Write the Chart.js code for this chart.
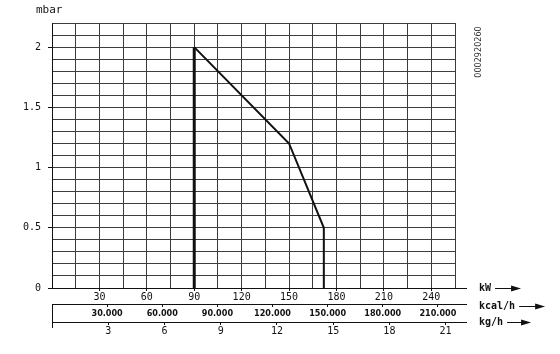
<!DOCTYPE html>
<html>
<head>
<meta charset="utf-8">
<script src="https://cdn.jsdelivr.net/npm/chart.js@4.4.0/dist/chart.umd.min.js"></script>
<style>
  html, body { margin: 0; padding: 0; background: #fff; }
</style>
</head>
<body>
<canvas id="chart" width="560" height="354"></canvas>
<script>
// ===== 曲线数据（kW / mbar）=====
const CURVE_KW = [90, 90, 150, 172, 172];
const CURVE_MBAR = [0, 2, 1.2, 0.5, 0];

// ===== 刻度标签 =====
const MBAR_TICKS = [0, 0.5, 1, 1.5, 2];
const KW_TICKS = [30, 60, 90, 120, 150, 180, 210, 240];
const KCAL_TICKS = [30000, 60000, 90000, 120000, 150000, 180000, 210000];
const KG_TICKS = [3, 6, 9, 12, 15, 18, 21];

// ===== 轴范围 =====
const KW_MAX = 255;
const MBAR_MAX = 2.2;
const KCAL_PER_KW = 860;
const KW_PER_KG = 11.86;

const INK = '#111';
const GRID = '#3c3c3c';
const HIDE = 'rgba(0,0,0,0)';
const MONO = '"DejaVu Sans Mono", monospace';

const has = (list, v) => list.some(t => Math.abs(t - v) < 1e-6);

// 右侧单位、箭头、mbar、编号
const extras = {
  id: 'extras',
  afterDraw(chart) {
    const { ctx, chartArea, scales } = chart;
    ctx.save();
    ctx.strokeStyle = INK;
    ctx.fillStyle = INK;
    ctx.lineWidth = 1;

    // 轴线向右延伸
    [scales.x, scales.x2, scales.x3].forEach(s => {
      const y = Math.round(s.top) + 0.5;
      ctx.beginPath();
      ctx.moveTo(s.right, y);
      ctx.lineTo(s.right + 12, y);
      ctx.stroke();
    });
    // 左侧竖线
    const lx0 = Math.round(scales.x2.left) + 0.5;
    ctx.beginPath();
    ctx.moveTo(lx0, scales.x2.top);
    ctx.lineTo(lx0, scales.x3.top + 6);
    ctx.stroke();

    // 单位 + 箭头
    ctx.font = 'bold 10px ' + MONO;
    ctx.textBaseline = 'middle';
    ctx.textAlign = 'left';
    const tx = chartArea.right + 24;
    [['kW', scales.x.top, 26], ['kcal/h', scales.x2.top + 2, 26], ['kg/h', scales.x3.top, 24]].forEach(([t, y, len]) => {
      ctx.fillText(t, tx, y);
      const w = ctx.measureText(t).width;
      const x0 = tx + w + 4, x1 = x0 + len;
      const yy = Math.round(y) + 0.5;
      ctx.beginPath();
      ctx.moveTo(x0, yy);
      ctx.lineTo(x1 - 6, yy);
      ctx.stroke();
      ctx.beginPath();
      ctx.moveTo(x1, yy);
      ctx.lineTo(x1 - 10, yy - 3);
      ctx.lineTo(x1 - 10, yy + 3);
      ctx.closePath();
      ctx.fill();
    });

    // mbar
    ctx.font = '11px ' + MONO;
    ctx.fillText('mbar', scales.y.right - 16, chartArea.top - 13);

    // 图号（竖排）
    ctx.translate(chartArea.right + 24, 52);
    ctx.rotate(-Math.PI / 2);
    ctx.textAlign = 'center';
    ctx.font = '9px "DejaVu Sans Condensed", sans-serif';
    ctx.fillStyle = '#333';
    ctx.fillText('0002920260', 0, 0);
    ctx.restore();
  }
};

new Chart(document.getElementById('chart'), {
  type: 'scatter',
  data: {
    datasets: [{
      data: CURVE_KW.map((x, i) => ({ x: x, y: CURVE_MBAR[i] })),
      showLine: true,
      borderColor: INK,
      borderWidth: 2,
      pointRadius: 0,
      segment: {
        borderWidth: c => (c.p0DataIndex === 0 ? 3 : 2)
      }
    }]
  },
  plugins: [extras],
  options: {
    responsive: false,
    animation: false,
    layout: { padding: { left: 0, right: 105, top: 23, bottom: 16 } },
    plugins: { legend: { display: false }, tooltip: { enabled: false } },
    scales: {
      y: {
        type: 'linear',
        min: 0,
        max: MBAR_MAX,
        afterFit: s => { s.width = 52; },
        ticks: {
          stepSize: 0.1,
          autoSkip: false,
          padding: 7,
          color: INK,
          font: { family: MONO, size: 10 },
          callback: v => (has(MBAR_TICKS, v) ? String(v) : '')
        },
        grid: {
          color: GRID,
          lineWidth: 1,
          tickLength: 4,
          tickColor: c => (c.tick && has(MBAR_TICKS, c.tick.value) ? INK : HIDE)
        },
        border: { color: INK, width: 1 }
      },
      x: {
        type: 'linear',
        position: 'bottom',
        min: 0,
        max: KW_MAX,
        afterFit: s => { s.height = 16; },
        ticks: {
          stepSize: 15,
          autoSkip: false,
          maxRotation: 0,
          padding: 0,
          color: INK,
          font: { family: MONO, size: 10 },
          callback: v => (has(KW_TICKS, v) ? String(v) : '')
        },
        grid: {
          color: GRID,
          lineWidth: 1,
          tickLength: 3,
          tickColor: c => (c.tick && has(KW_TICKS, c.tick.value) ? INK : HIDE)
        },
        border: { color: INK, width: 1 }
      },
      x2: {
        type: 'linear',
        position: 'bottom',
        min: 0,
        max: KW_MAX * KCAL_PER_KW,
        afterBuildTicks: s => { s.ticks = KCAL_TICKS.map(v => ({ value: v })); },
        afterFit: s => { s.height = 18; },
        ticks: {
          autoSkip: false,
          maxRotation: 0,
          padding: 1,
          color: INK,
          font: { family: '"DejaVu Sans Condensed", sans-serif', size: 9, weight: 'bold' },
          callback: v => (v / 1000) + '.000'
        },
        grid: {
          drawOnChartArea: false,
          tickLength: 3,
          tickColor: INK
        },
        border: { color: INK, width: 1 }
      },
      x3: {
        type: 'linear',
        position: 'bottom',
        min: 0,
        max: KW_MAX / KW_PER_KG,
        afterBuildTicks: s => { s.ticks = KG_TICKS.map(v => ({ value: v })); },
        afterFit: s => { s.height = 16; },
        ticks: {
          autoSkip: false,
          maxRotation: 0,
          padding: 0,
          color: INK,
          font: { family: MONO, size: 10 },
          callback: v => String(v)
        },
        grid: {
          drawOnChartArea: false,
          tickLength: 3,
          tickColor: INK
        },
        border: { color: INK, width: 1 }
      }
    }
  }
});
</script>
</body>
</html>
